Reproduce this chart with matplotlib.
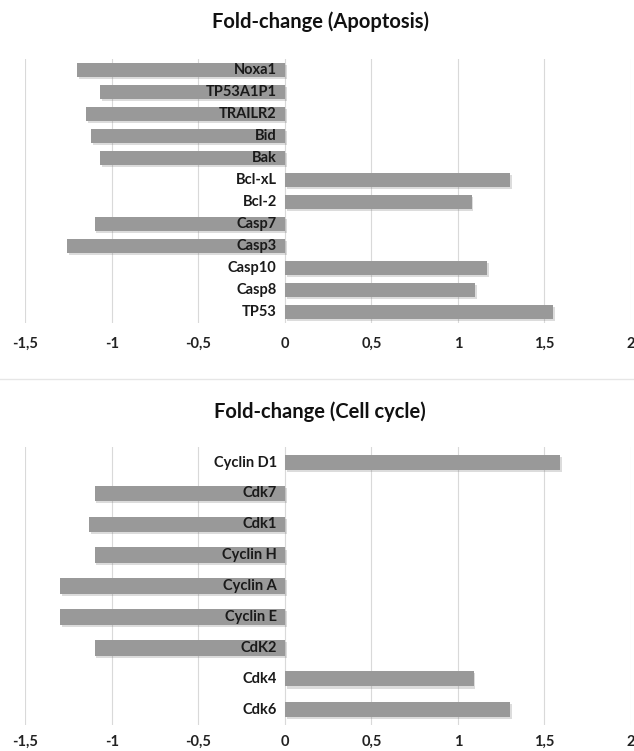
import matplotlib
matplotlib.use('Agg')
import matplotlib.pyplot as plt
import matplotlib.patheffects as pe
from matplotlib.lines import Line2D

# Datos
apoptosis_genes = ['Noxa1', 'TP53A1P1', 'TRAILR2', 'Bid', 'Bak', 'Bcl-xL', 'Bcl-2',
                   'Casp7', 'Casp3', 'Casp10', 'Casp8', 'TP53']
apoptosis_fc = [-1.20, -1.07, -1.15, -1.12, -1.07, 1.30, 1.08, -1.10, -1.26, 1.17, 1.10, 1.55]

cycle_genes = ['Cyclin D1', 'Cdk7', 'Cdk1', 'Cyclin H', 'Cyclin A', 'Cyclin E', 'CdK2',
               'Cdk4', 'Cdk6']
cycle_fc = [1.59, -1.10, -1.13, -1.10, -1.30, -1.30, -1.10, 1.09, 1.30]

x_ticks = [-1.5, -1, -0.5, 0, 0.5, 1, 1.5, 2]
x_tick_labels = ['-1,5', '-1', '-0,5', '0', '0,5', '1', '1,5', '2']

plt.rcParams['font.family'] = ['Lato', 'DejaVu Sans']
plt.rcParams['font.weight'] = 'bold'

BAR_COLOR = '#999999'
GRID_COLOR = '#d9d9d9'


def draw_panel(ax, genes, values, bar_height, title_y, title, xpad):
    pos = list(range(len(genes)))
    bars = ax.barh(pos, values, height=bar_height, color=BAR_COLOR, zorder=2)
    for b in bars:
        b.set_path_effects([pe.SimplePatchShadow(offset=(1.2, -1.5), shadow_rgbFace='#777777', alpha=0.25),
                            pe.Normal()])
    ax.set_xlim(-1.5, 2)
    ax.set_ylim(len(genes) - 0.5, -0.5)
    ax.set_xticks(x_ticks)
    ax.set_xticklabels(x_tick_labels, fontsize=10.5, fontweight='bold', color='#222222')
    ax.set_yticks([])
    # Etiquetas de categoria junto a x=0, por encima de las barras
    for p, g in zip(pos, genes):
        ax.annotate(g, xy=(0, p), xytext=(-6, 0), textcoords='offset points',
                    ha='right', va='center', fontsize=10.5, fontweight='bold',
                    color='#1a1a1a', zorder=5)
    for s in ax.spines.values():
        s.set_visible(False)
    ax.tick_params(axis='both', length=0)
    ax.tick_params(axis='x', pad=xpad)
    ax.xaxis.grid(True, color=GRID_COLOR, linewidth=0.8, zorder=0)
    ax.set_axisbelow(True)
    ax.figure.text(0.505, title_y, title, ha='center', va='center', fontsize=14.5, fontweight='bold',
                   color='#111111')


fig = plt.figure(figsize=(6.34, 7.51), dpi=100)

ax1 = fig.add_axes([0.0402, 0.570, 0.955, 0.3515])
draw_panel(ax1, apoptosis_genes, apoptosis_fc, 0.65, 1 - 22 / 751, 'Fold-change (Apoptosis)', 10)

ax2 = fig.add_axes([0.0402, 0.0346, 0.955, 0.370])
draw_panel(ax2, cycle_genes, cycle_fc, 0.5, 1 - 412 / 751, 'Fold-change (Cell cycle)', 7)

# Linea separadora entre los dos graficos
fig.add_artist(Line2D([0, 1], [1 - 379 / 751, 1 - 379 / 751], color='#e6e6e6', linewidth=1,
                      transform=fig.transFigure))

fig.savefig('out.png', dpi=100, facecolor='white')
